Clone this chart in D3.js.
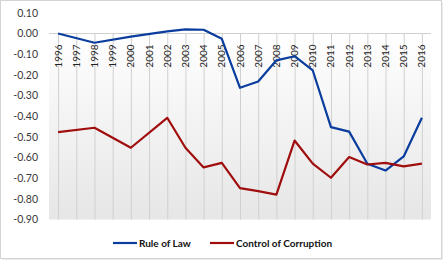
<!DOCTYPE html>
<html>
<head>
<meta charset="utf-8">
<script src="https://cdn.jsdelivr.net/npm/d3@7"></script>
<style>
  body { margin: 0; background: #fff; }
  svg { display: block; font-family: Lato, "Open Sans", sans-serif; }
</style>
</head>
<body>
<svg id="chart" width="444" height="261"></svg>
<script>
let years = ['1996','1997','1998','1999','2000','2001','2002','2003','2004','2005','2006',
             '2007','2008','2009','2010','2011','2012','2013','2014','2015','2016']
// null = no survey that year, line joins across
let ruleOfLaw = [0.00, null, -0.045, null, -0.015, null, 0.01, 0.02, 0.018, -0.026, -0.263,
                 -0.232, -0.13, -0.11, -0.179, -0.453, -0.475, -0.63, -0.663, -0.595, -0.408]
let controlCorruption = [-0.477, null, -0.456, null, -0.553, null, -0.408, -0.553, -0.648, -0.626, -0.748,
                         -0.763, -0.78, -0.518, -0.63, -0.698, -0.598, -0.634, -0.626, -0.643, -0.63]
let yTicks = [0.1, 0, -0.1, -0.2, -0.3, -0.4, -0.5, -0.6, -0.7, -0.8, -0.9]
let seriesNames = ['Rule of Law', 'Control of Corruption']
let seriesColors = ['#0a3d9e', '#a00d0d']

let svg = d3.select('#chart')
let W = 444, H = 261
let left = 49, right = 431

// outer frame
svg.append('rect').attr('x', 0.5).attr('y', 0.5).attr('width', W - 3).attr('height', H - 3)
  .attr('fill', '#fff').attr('stroke', '#d4d4d4')
svg.append('path').attr('d', `M${W - 1.5},2 V${H - 1.5} H2`)
  .attr('fill', 'none').attr('stroke', '#ececec')

let x = d3.scaleBand().domain(years).range([left, right])
let xc = d => x(d) + x.bandwidth() / 2
let y = d3.scaleLinear().domain([-0.9, 0.1]).range([219.5, 12.8])

// plot background gradient
let defs = svg.append('defs')
let grad = defs.append('linearGradient').attr('id', 'bg').attr('x1', 0).attr('y1', 0).attr('x2', 0).attr('y2', 1)
grad.append('stop').attr('offset', '0%').attr('stop-color', '#ffffff')
grad.append('stop').attr('offset', '100%').attr('stop-color', '#e6e6e6')
svg.append('rect').attr('x', left).attr('y', y(0)).attr('width', right - left)
  .attr('height', y(-0.9) - y(0)).attr('fill', 'url(#bg)')

// vertical gridlines at categories
svg.append('g').selectAll('line').data(years).join('line')
  .attr('x1', d => xc(d) + 0.5).attr('x2', d => xc(d) + 0.5)
  .attr('y1', y(0)).attr('y2', y(-0.9))
  .attr('stroke', '#d0d0d0').attr('stroke-width', 1)

// zero line
svg.append('line').attr('x1', left).attr('x2', right)
  .attr('y1', Math.round(y(0)) + 0.5).attr('y2', Math.round(y(0)) + 0.5)
  .attr('stroke', '#d0d0d0')

// y axis labels
let yAxis = d3.axisLeft(y).tickValues(yTicks).tickFormat(d3.format('.2f')).tickSize(0).tickPadding(0)
let gy = svg.append('g').attr('transform', 'translate(38,0)').call(yAxis)
gy.select('.domain').remove()
gy.selectAll('text').attr('fill', '#3a3a3a').style('font-size', '10.5px')
  .style('font-family', 'Lato, "Open Sans", sans-serif')
  .text(d => d3.format('.2f')(d).replace('−', '-'))

// category labels rotated, hanging under zero line
svg.append('g').selectAll('text').data(years).join('text')
  .attr('transform', d => `translate(${xc(d) + 3.5},${y(0) + 11}) rotate(-90)`)
  .attr('text-anchor', 'end')
  .attr('fill', '#222')
  .style('font-size', '10px')
  .text(d => d)

// lines
let line = d3.line().x(d => xc(d.year)).y(d => y(d.v))
let series = [ruleOfLaw, controlCorruption]
series.forEach(function(vals, i) {
  let pts = years.map((yr, j) => ({year: yr, v: vals[j]})).filter(d => d.v !== null)
  svg.append('path').datum(pts).attr('d', line)
    .attr('fill', 'none').attr('stroke', seriesColors[i]).attr('stroke-width', 2.2)
    .attr('stroke-linejoin', 'round')
})

// legend
let legX = [113, 210]
seriesNames.forEach(function(name, i) {
  let g = svg.append('g').attr('transform', `translate(${legX[i]},243)`)
  g.append('line').attr('x1', 0).attr('x2', 24).attr('y1', 0).attr('y2', 0)
    .attr('stroke', seriesColors[i]).attr('stroke-width', 2.2)
  g.append('text').attr('x', 26).attr('y', 3.5)
    .attr('fill', '#111').style('font-size', '10px').style('font-weight', 'bold')
    .text(name)
})
</script>
</body>
</html>
